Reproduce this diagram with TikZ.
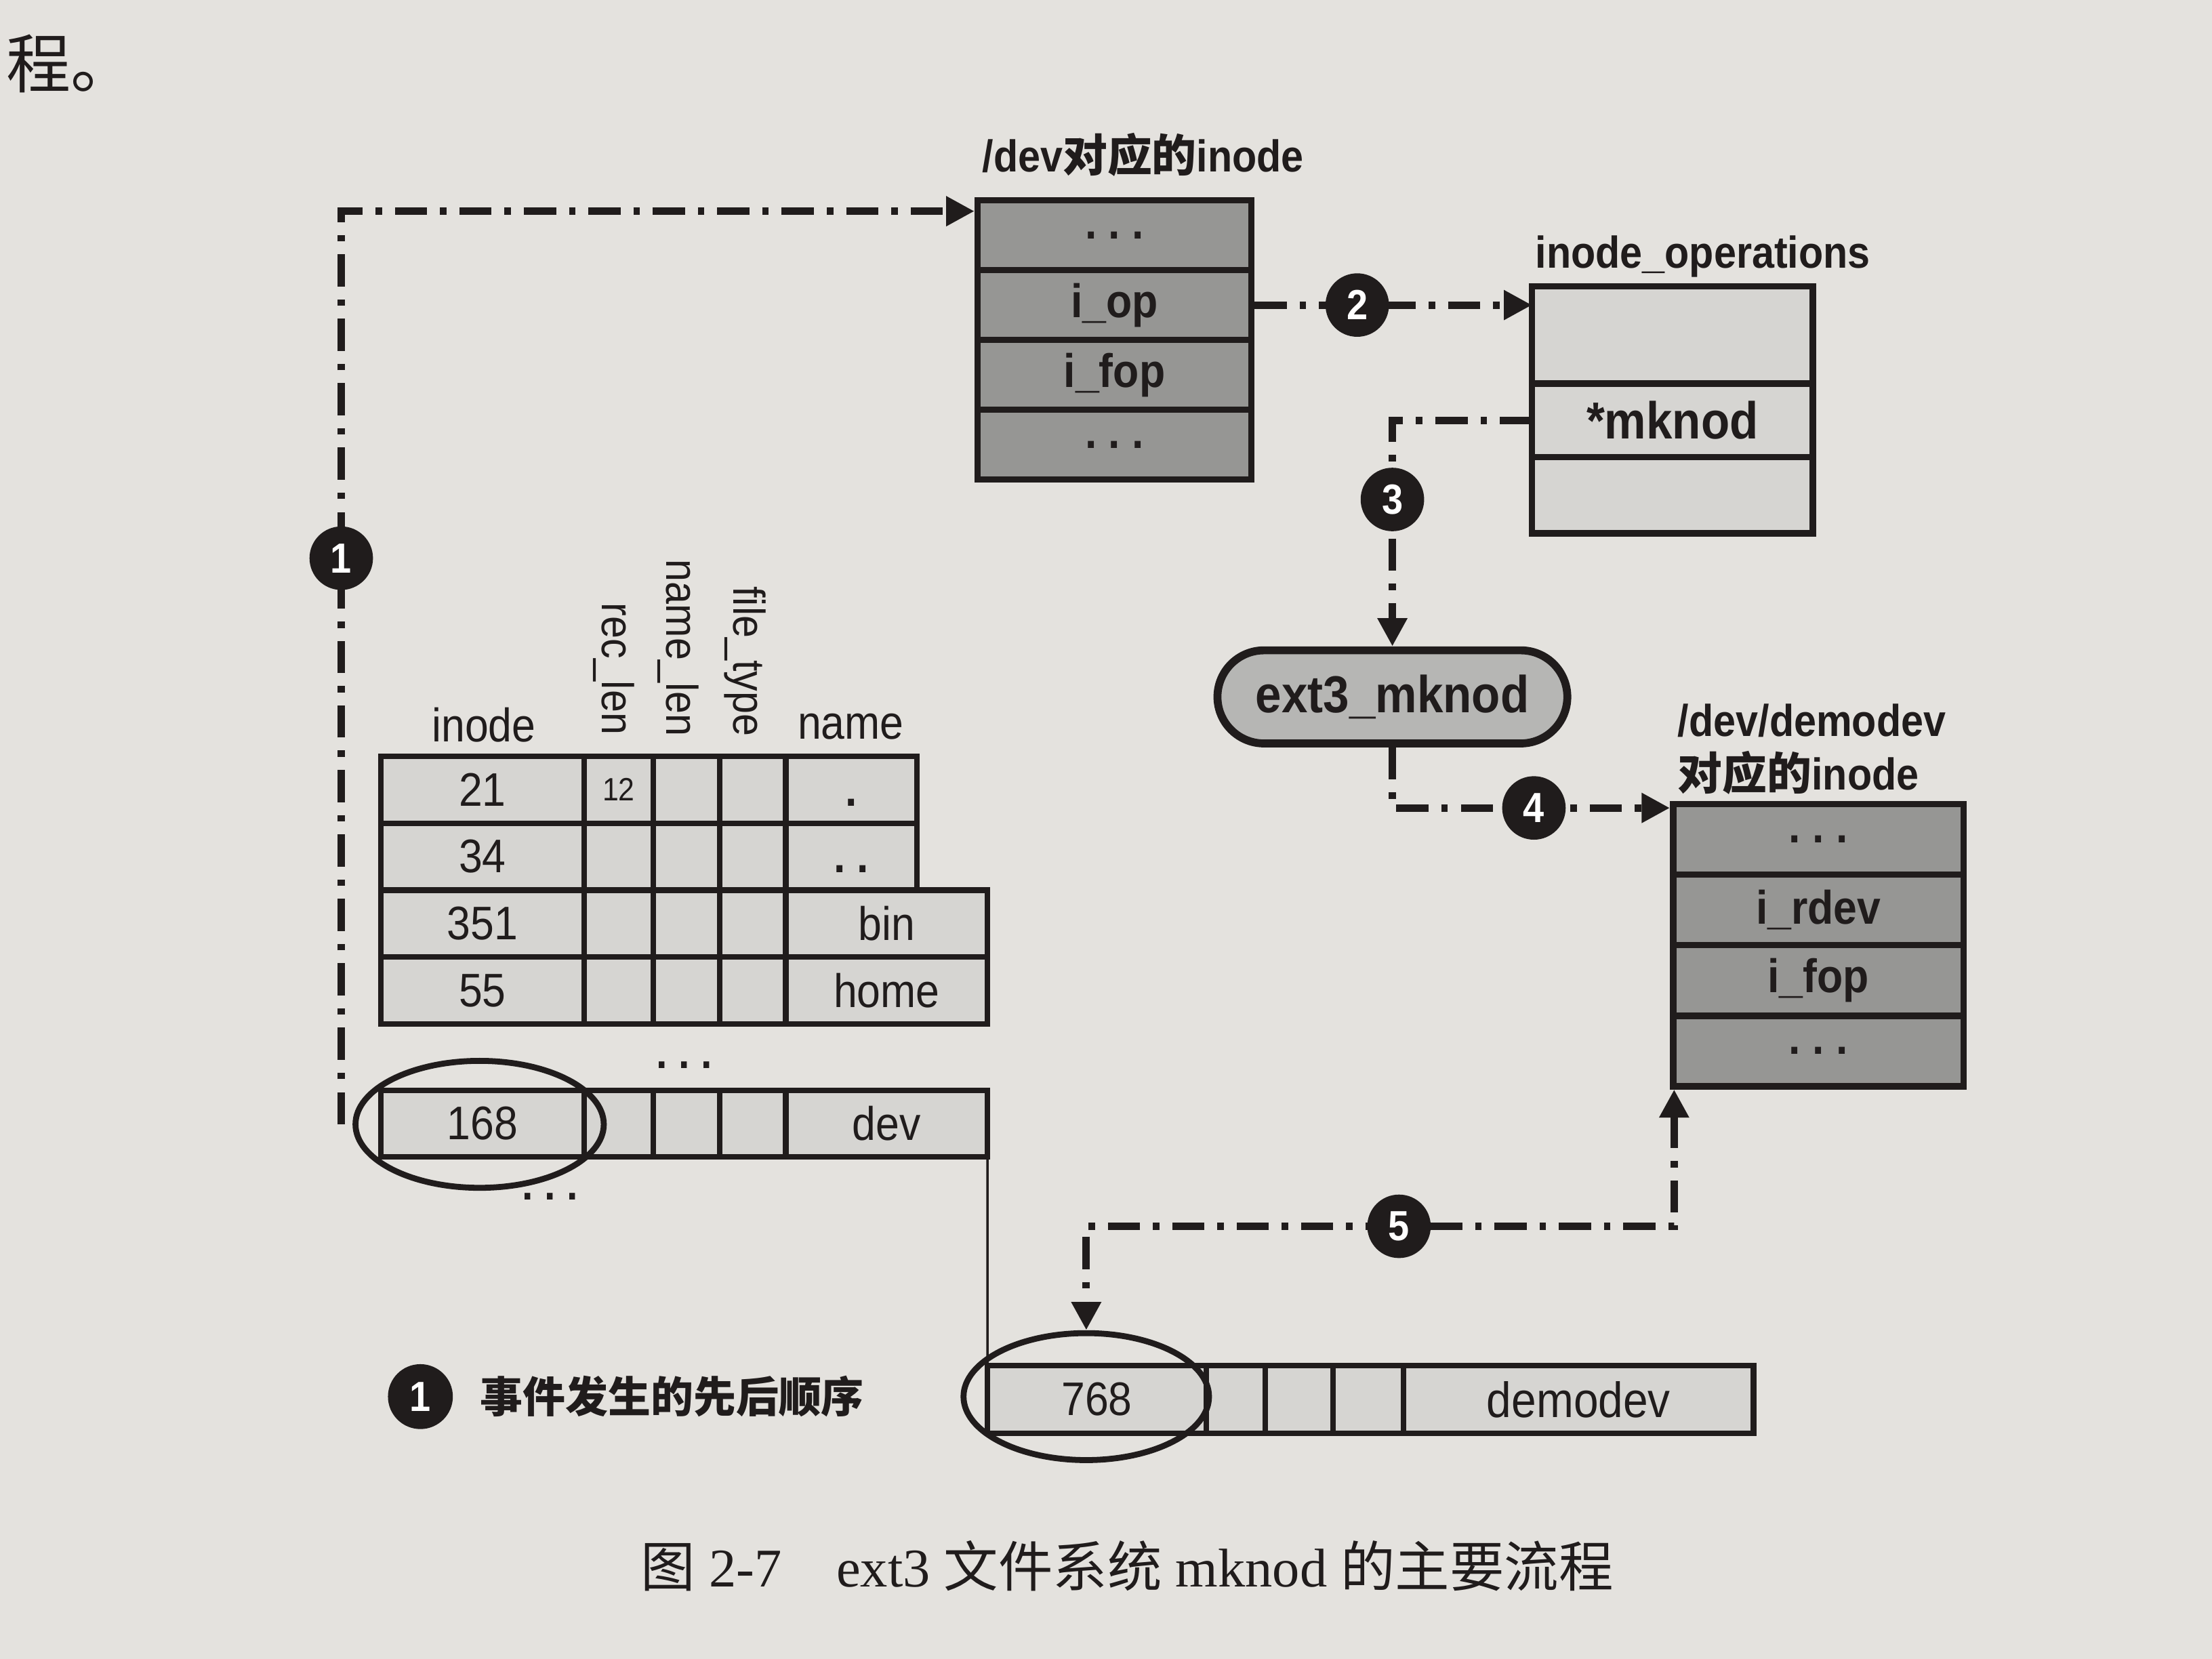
\documentclass[tikz,border=0pt]{standalone}
\usepackage{fontspec}
\setmainfont{Liberation Sans}[FakeStretch=0.9]
\newfontfamily\cjk{Noto Sans CJK SC}
\newfontfamily\capserif{Liberation Serif}
\usetikzlibrary{arrows.meta,shapes.geometric}
\definecolor{paper}{RGB}{228,226,222}
\definecolor{cellgray}{RGB}{214,213,210}
\definecolor{hatchgray}{RGB}{150,150,148}
\definecolor{pillgray}{RGB}{182,182,180}
\definecolor{ink}{RGB}{32,28,28}

\begin{document}
\begin{tikzpicture}[ink,
    field/.style={draw=ink, line width=1.3pt, fill=hatchgray, minimum width=1.94cm, minimum height=0.495cm, inner sep=0pt, font=\fontsize{9.5}{11}\selectfont\bfseries},
    cell/.style={draw=ink, line width=1.1pt, fill=cellgray, inner sep=0pt, outer sep=0pt, minimum height=0.475cm, font=\fontsize{9.5}{11}\selectfont},
    flow/.style={draw=ink, line width=1.5pt, dash pattern=on 6.5pt off 2.6pt on 1.3pt off 2.6pt, -{Triangle[length=2mm,width=2mm]}},
    stepnum/.style={circle, fill=ink, text=white, inner sep=0pt, minimum size=4.5mm, font=\bfseries\fontsize{8.5}{8.5}\selectfont},
    ring/.style={draw=ink, line width=1.2pt, ellipse, inner sep=0pt, minimum width=1.76cm, minimum height=0.9cm},
    lbl/.style={font=\bfseries\fontsize{9}{11}\selectfont},
    vhead/.style={rotate=-90, anchor=east, inner sep=1pt, font=\fontsize{9}{10}\selectfont}]
   \useasboundingbox (0,0) rectangle (15.68,-11.76);
   \fill[paper] (0,0) rectangle (15.68,-11.76);
   \node[anchor=west, font=\cjk\fontsize{13}{15}\selectfont] (prev) at (-0.08,-0.45) {程。};

   % inode of /dev
   \node[lbl, anchor=base west] (devlbl) at (6.84,-1.22) {/dev{\cjk 对应的}inode};
   \node[field] (devA) at (7.90,-1.6675) {.\ .\ .};
   \node[field] (devop) at (7.90,-2.1625) {i\_op};
   \node[field] (devfop) at (7.90,-2.6575) {i\_fop};
   \node[field] (devB) at (7.90,-3.1525) {.\ .\ .};

   % inode_operations
   \node[lbl, anchor=base west] (opslbl) at (10.76,-1.90) {inode\_operations};
   \node[cell, line width=1.3pt, minimum width=1.99cm, minimum height=0.69cm] (opsA) at (11.855,-2.375) {};
   \node[cell, line width=1.3pt, minimum width=1.99cm, minimum height=0.52cm, font=\bfseries\fontsize{10.5}{12}\selectfont] (opsmk) at (11.855,-2.98) {*mknod};
   \node[cell, line width=1.3pt, minimum width=1.99cm, minimum height=0.54cm] (opsB) at (11.855,-3.51) {};

   \node[draw=ink, line width=1.6pt, fill=pillgray, rounded corners=3.3mm, minimum width=2.48cm, minimum height=0.66cm, font=\bfseries\fontsize{10.5}{12}\selectfont] (ext3) at (9.87,-4.94) {ext3\_mknod};

   % inode of /dev/demodev
   \node[lbl, anchor=base west] (dmlbl) at (11.77,-5.22) {/dev/demodev};
   \node[lbl, anchor=base west] (dmlblb) at (11.77,-5.60) {{\cjk 对应的}inode};
   \node[field, minimum width=2.06cm, minimum height=0.5cm] (dmA) at (12.89,-5.95) {.\ .\ .};
   \node[field, minimum width=2.06cm, minimum height=0.5cm] (dmrdev) at (12.89,-6.45) {i\_rdev};
   \node[field, minimum width=2.06cm, minimum height=0.5cm] (dmfop) at (12.89,-6.95) {i\_fop};
   \node[field, minimum width=2.06cm, minimum height=0.5cm] (dmB) at (12.89,-7.45) {.\ .\ .};

   % directory entries
   \node[anchor=base] (hino) at (3.43,-5.26) {\fontsize{9.5}{11}\selectfont inode};
   \node[vhead] (hrec) at (4.35,-5.25) {rec\_len};
   \node[vhead] (hnlen) at (4.81,-5.26) {name\_len};
   \node[vhead] (hft) at (5.28,-5.26) {file\_type};
   \node[anchor=base] (hname) at (6.03,-5.24) {\fontsize{9.5}{11}\selectfont name};

   \node[cell, minimum width=1.44cm] (r1ino) at (3.42,-5.5975) {21};
   \node[cell, minimum width=0.49cm] (r1rec) at (4.385,-5.5975) {\fontsize{6.5}{7}\selectfont 12};
   \node[cell, minimum width=0.47cm] (r1nlen) at (4.865,-5.5975) {};
   \node[cell, minimum width=0.47cm] (r1ft) at (5.335,-5.5975) {};
   \node[cell, minimum width=0.93cm] (r1name) at (6.035,-5.5975) {\vphantom{0}\bfseries .};

   \node[cell, minimum width=1.44cm] (r2ino) at (3.42,-6.0725) {34};
   \node[cell, minimum width=0.49cm] (r2rec) at (4.385,-6.0725) {};
   \node[cell, minimum width=0.47cm] (r2nlen) at (4.865,-6.0725) {};
   \node[cell, minimum width=0.47cm] (r2ft) at (5.335,-6.0725) {};
   \node[cell, minimum width=0.93cm] (r2name) at (6.035,-6.0725) {\vphantom{0}\bfseries .\ .};

   \node[cell, minimum width=1.44cm] (r3ino) at (3.42,-6.5475) {351};
   \node[cell, minimum width=0.49cm] (r3rec) at (4.385,-6.5475) {};
   \node[cell, minimum width=0.47cm] (r3nlen) at (4.865,-6.5475) {};
   \node[cell, minimum width=0.47cm] (r3ft) at (5.335,-6.5475) {};
   \node[cell, minimum width=1.43cm] (r3name) at (6.285,-6.5475) {bin};

   \node[cell, minimum width=1.44cm] (r4ino) at (3.42,-7.0225) {55};
   \node[cell, minimum width=0.49cm] (r4rec) at (4.385,-7.0225) {};
   \node[cell, minimum width=0.47cm] (r4nlen) at (4.865,-7.0225) {};
   \node[cell, minimum width=0.47cm] (r4ft) at (5.335,-7.0225) {};
   \node[cell, minimum width=1.43cm] (r4name) at (6.285,-7.0225) {home};

   \node[font=\bfseries\fontsize{9}{11}\selectfont] (dotsA) at (4.85,-7.55) {.\ .\ .};
   \node[cell, minimum width=1.44cm, minimum height=0.47cm] (d1ino) at (3.42,-7.965) {168};
   \node[cell, minimum width=0.49cm, minimum height=0.47cm] (d1rec) at (4.385,-7.965) {};
   \node[cell, minimum width=0.47cm, minimum height=0.47cm] (d1nlen) at (4.865,-7.965) {};
   \node[cell, minimum width=0.47cm, minimum height=0.47cm] (d1ft) at (5.335,-7.965) {};
   \node[cell, minimum width=1.43cm, minimum height=0.47cm] (d1name) at (6.285,-7.965) {dev};
   \node[font=\bfseries\fontsize{9}{11}\selectfont] (dotsB) at (3.90,-8.48) {.\ .\ .};
   \node[ring] (e168) at (3.40,-7.97) {};

   \node[cell, minimum width=1.55cm, minimum height=0.48cm] (d2ino) at (7.775,-9.92) {768};
   \node[cell, minimum width=0.42cm, minimum height=0.48cm] (d2rec) at (8.76,-9.92) {};
   \node[cell, minimum width=0.48cm, minimum height=0.48cm] (d2nlen) at (9.21,-9.92) {};
   \node[cell, minimum width=0.50cm, minimum height=0.48cm] (d2ft) at (9.70,-9.92) {};
   \node[cell, minimum width=2.48cm, minimum height=0.48cm, font=\fontsize{10}{12}\selectfont] (d2name) at (11.19,-9.92) {demodev};
   \node[ring, minimum width=1.74cm] (e768) at (7.70,-9.90) {};
   \draw[line width=0.5pt] (d1name.south east) -- (d2ino.south west);

   % the five steps
   \draw[flow] ([xshift=-0.8mm]e168.west) |- node[stepnum, pos=0.31] (n1) {1} ([yshift=-1mm]devA.north west);
   \draw[flow] (devop.east) -- node[stepnum, pos=0.37] (n2) {2} (devop.east -| opsA.west);
   \draw[flow] (opsmk.west) -| node[stepnum, pos=0.675] (n3) {3} (ext3.north);
   \draw[flow] (ext3.south) |- node[stepnum, pos=0.755] (n4) {4} ([yshift=-0.5mm]dmA.north west);
   \draw[flow, {Triangle[length=2mm,width=2mm]}-{Triangle[length=2mm,width=2mm]}] ([xshift=0.3mm]dmB.south west) -- ++(0,-0.97) -| node[stepnum, pos=0.234] (n5) {5} (e768.north);

   % key and caption
   \node[stepnum, minimum size=4.6mm] (key) at (2.98,-9.90) {1};
   \node[anchor=west, font=\cjk\bfseries\fontsize{8.6}{11}\selectfont] (keytxt) at (3.28,-9.90) {事件发生的先后顺序};
   \node[font=\fontsize{11}{13}\selectfont] (cap) at (7.99,-11.10) {{\cjk 图} {\capserif 2-7}\quad{\capserif ext3} {\cjk 文件系统} {\capserif mknod} {\cjk 的主要流程}};
\end{tikzpicture}
\end{document}
